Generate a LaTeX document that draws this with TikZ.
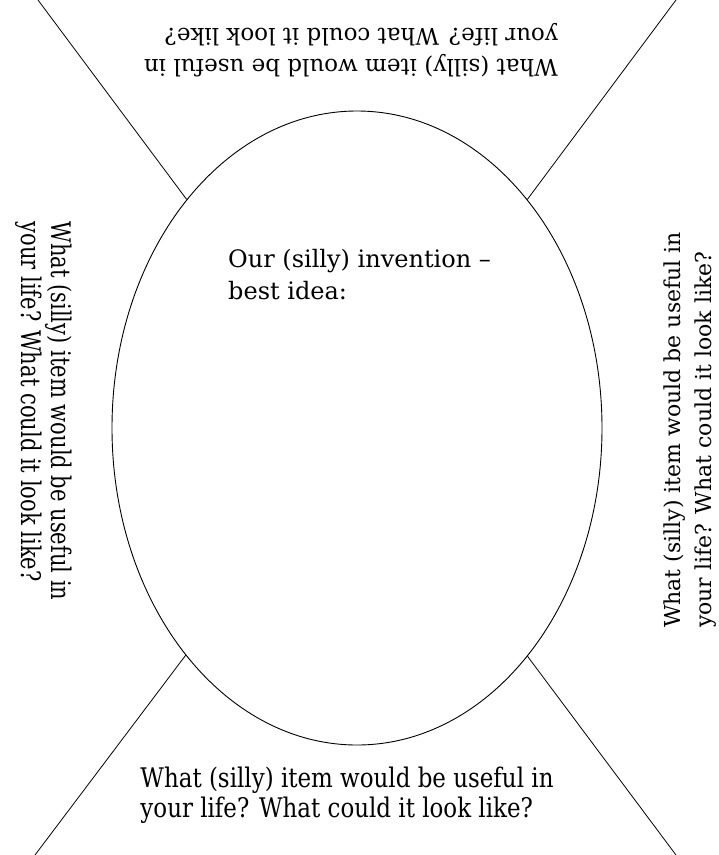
\documentclass[tikz,border=0pt]{standalone}
\usepackage{fontspec}
\setmainfont{DejaVu Serif}
\usetikzlibrary{shapes.geometric}

\begin{document}
\begin{tikzpicture}[x=1pt, y=-1pt,
    prompt/.style={font=\fontsize{22.5}{30.5}\selectfont, align=left, inner sep=0pt},
    narrow/.style={prompt, font=\fontsize{27}{30}\selectfont, xscale=#1, transform shape},
    divider/.style={draw=black, line width=0.8pt}]
    \useasboundingbox (0,0) rectangle (719,855);

    % the middle oval
    \node[draw, ellipse, line width=0.9pt, minimum width=490pt, minimum height=634pt, inner sep=0pt] (blob) at (357,428) {};

    % corner lines
    \coordinate (tl) at (38,0);
    \coordinate (tr) at (676,0);
    \coordinate (bl) at (35,855);
    \coordinate (br) at (676,855);
    \draw[divider] (tl) -- (blob);
    \draw[divider] (tr) -- (blob);
    \draw[divider] (bl) -- (blob);
    \draw[divider] (br) -- (blob);

    % the four questions
    \node[prompt, font=\fontsize{23}{30.5}\selectfont, rotate=180] (topq) at (351,50) {What (silly) item would be useful in\\your life? What could it look like?};
    \node[rotate=-90, narrow=0.78] (leftq) at (44,411) {What (silly) item would be useful in\\your life? What could it look like?};
    \node[prompt, font=\fontsize{22}{30.5}\selectfont, rotate=90] (rightq) at (690,430) {What (silly) item would be useful in\\your life? What could it look like?};
    \node[narrow=0.85] (botq) at (347,795) {What (silly) item would be useful in\\your life? What could it look like?};

    \node[prompt, font=\fontsize{24}{32}\selectfont, anchor=north west] (idea) at (228,249) {Our (silly) invention --\\best idea:};
\end{tikzpicture}
\end{document}
